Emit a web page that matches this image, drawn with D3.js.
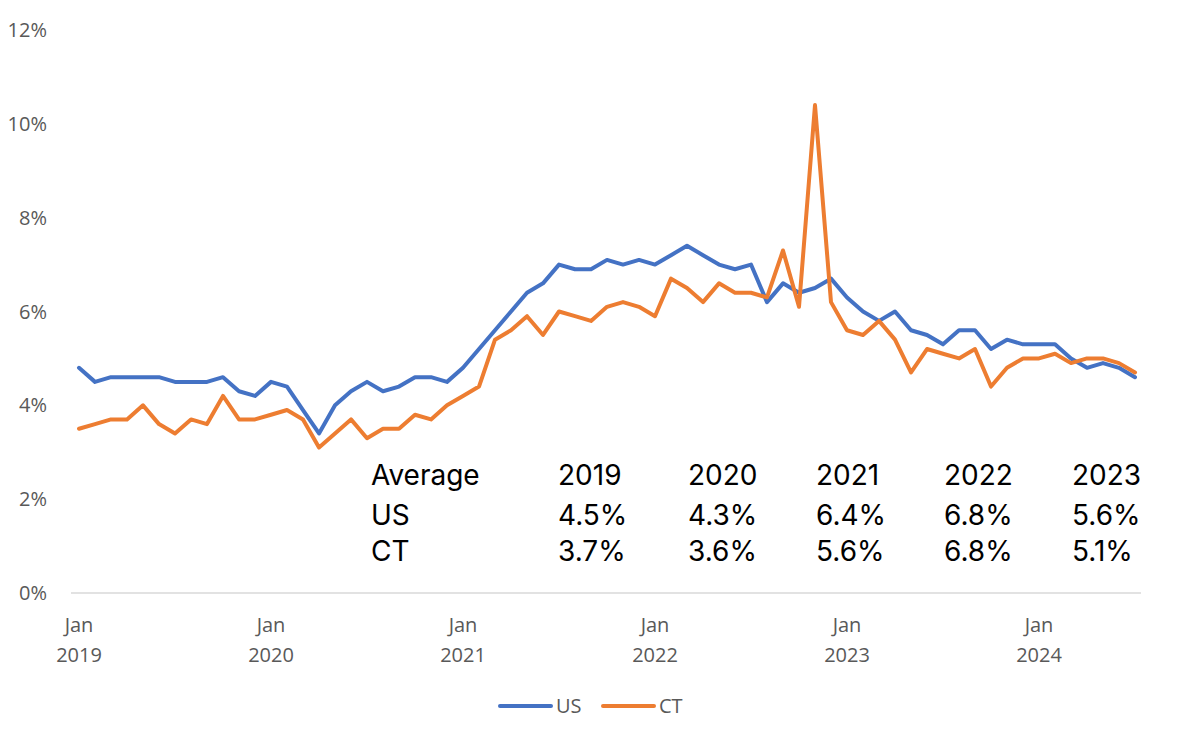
<!DOCTYPE html>
<html lang="en">
<head>
    <meta charset="utf-8">
    <title>Job openings rate: US vs CT</title>
    <script src="https://cdn.jsdelivr.net/npm/d3@7"></script>
    <style type="text/css">
        body { margin: 0; background: #fff; }
        .tick-label { font-family: "Open Sans", sans-serif; font-size: 20px; fill: #595959; }
        .table-text { font-family: "Inter", sans-serif; font-size: 28px; fill: #000; }
    </style>
</head>
<body>
    <script type="text/javascript">

        // Monthly rates (%), Jan 2019 .. Jul 2024
        var months = [];
        for (var yr = 2019; yr <= 2024; yr++) {
            for (var m = 1; m <= 12; m++) {
                if (yr === 2024 && m > 7) break;
                months.push(yr + "-" + (m < 10 ? "0" + m : m));
            }
        }

        var usRate = [4.8, 4.5, 4.6, 4.6, 4.6, 4.6, 4.5, 4.5, 4.5, 4.6, 4.3, 4.2,
            4.5, 4.4, 3.9, 3.4, 4.0, 4.3, 4.5, 4.3, 4.4, 4.6, 4.6, 4.5,
            4.8, 5.2, 5.6, 6.0, 6.4, 6.6, 7.0, 6.9, 6.9, 7.1, 7.0, 7.1,
            7.0, 7.2, 7.4, 7.2, 7.0, 6.9, 7.0, 6.2, 6.6, 6.4, 6.5, 6.7,
            6.3, 6.0, 5.8, 6.0, 5.6, 5.5, 5.3, 5.6, 5.6, 5.2, 5.4, 5.3,
            5.3, 5.3, 5.0, 4.8, 4.9, 4.8, 4.6];

        var ctRate = [3.5, 3.6, 3.7, 3.7, 4.0, 3.6, 3.4, 3.7, 3.6, 4.2, 3.7, 3.7,
            3.8, 3.9, 3.7, 3.1, 3.4, 3.7, 3.3, 3.5, 3.5, 3.8, 3.7, 4.0,
            4.2, 4.4, 5.4, 5.6, 5.9, 5.5, 6.0, 5.9, 5.8, 6.1, 6.2, 6.1,
            5.9, 6.7, 6.5, 6.2, 6.6, 6.4, 6.4, 6.3, 7.3, 6.1, 10.4, 6.2,
            5.6, 5.5, 5.8, 5.4, 4.7, 5.2, 5.1, 5.0, 5.2, 4.4, 4.8, 5.0,
            5.0, 5.1, 4.9, 5.0, 5.0, 4.9, 4.7];

        var yTicks = [0, 2, 4, 6, 8, 10, 12];

        // Yearly averages table
        var avgYears = ["2019", "2020", "2021", "2022", "2023"];
        var usAvg = ["4.5%", "4.3%", "6.4%", "6.8%", "5.6%"];
        var ctAvg = ["3.7%", "3.6%", "5.6%", "6.8%", "5.1%"];

        var seriesNames = ["US", "CT"];
        var seriesColors = ["#4472C4", "#ED7D31"];

        var w = 1178;
        var h = 742;

        var svg = d3.select("body")
            .append("svg")
            .attr("width", w)
            .attr("height", h);

        var x = d3.scalePoint()
            .domain(months)
            .range([71, 1143])
            .padding(0.5);

        var y = d3.scaleLinear()
            .domain([0, 12])
            .range([593, 30]);

        // baseline
        svg.append("line")
            .attr("x1", 71).attr("x2", 1141)
            .attr("y1", y(0)).attr("y2", y(0))
            .attr("stroke", "#d9d9d9")
            .attr("stroke-width", 1.5);

        // y tick labels
        svg.selectAll(".ylab")
            .data(yTicks)
            .enter()
            .append("text")
            .attr("class", "tick-label")
            .attr("x", 47)
            .attr("y", function (d) { return y(d) + 7; })
            .attr("text-anchor", "end")
            .text(function (d) { return d + "%"; });

        // x tick labels (January of each year)
        var janMonths = months.filter(function (d) { return d.slice(5) === "01"; });
        var xl = svg.selectAll(".xlab")
            .data(janMonths)
            .enter()
            .append("text")
            .attr("class", "tick-label")
            .attr("text-anchor", "middle")
            .attr("transform", function (d) { return "translate(" + x(d) + ",0)"; });
        xl.append("tspan").attr("x", 0).attr("y", 632).text("Jan");
        xl.append("tspan").attr("x", 0).attr("y", 662).text(function (d) { return d.slice(0, 4); });

        // lines
        var line = d3.line()
            .x(function (d, i) { return x(months[i]); })
            .y(function (d) { return y(d); });

        [usRate, ctRate].forEach(function (s, k) {
            svg.append("path")
                .datum(s)
                .attr("fill", "none")
                .attr("stroke", seriesColors[k])
                .attr("stroke-width", 4)
                .attr("stroke-linejoin", "round")
                .attr("stroke-linecap", "round")
                .attr("d", line);
        });

        // averages table
        var colX = [558, 688, 816, 944, 1072];
        var rowY = [485, 525, 561];
        var rows = [["Average"].concat(avgYears), ["US"].concat(usAvg), ["CT"].concat(ctAvg)];
        rows.forEach(function (r, ri) {
            svg.selectAll(".row" + ri)
                .data(r)
                .enter()
                .append("text")
                .attr("class", "table-text")
                .attr("x", function (d, ci) { return ci === 0 ? 371 : colX[ci - 1]; })
                .attr("y", rowY[ri])
                .text(function (d) { return d; });
        });

        // legend
        var legX = [500, 603];
        seriesNames.forEach(function (name, k) {
            svg.append("line")
                .attr("x1", legX[k]).attr("x2", legX[k] + 51)
                .attr("y1", 706).attr("y2", 706)
                .attr("stroke", seriesColors[k])
                .attr("stroke-width", 4)
                .attr("stroke-linecap", "round");
            svg.append("text")
                .attr("class", "tick-label")
                .attr("x", legX[k] + 56)
                .attr("y", 713)
                .text(name);
        });
    </script>
</body>
</html>
